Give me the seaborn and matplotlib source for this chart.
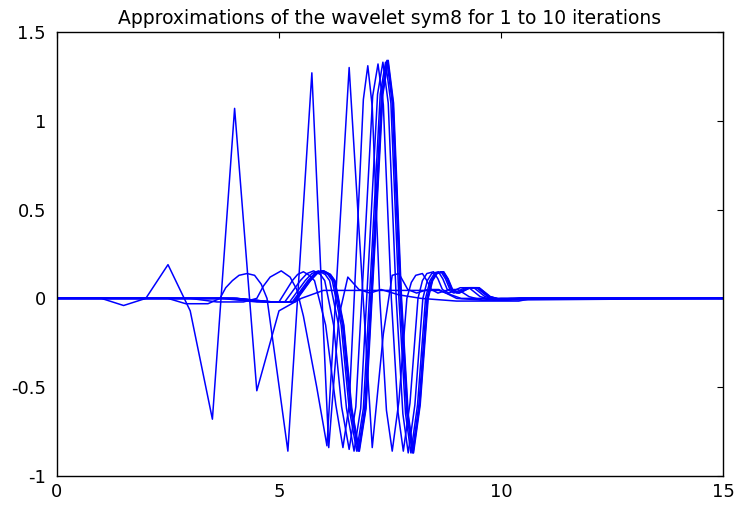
import matplotlib
matplotlib.use("Agg")
import matplotlib.pyplot as plt
import seaborn as sns
import pandas as pd

# Cascade approximations of the sym8 wavelet function psi, one polyline per iteration
x1 = [0, 1.0, 1.5, 2.0, 2.5, 3.0, 3.5, 4.0, 4.5, 5.0, 5.5, 6.0, 8.6, 9.1, 15]
y1 = [0, 0, -0.04, 0, 0.19, -0.07, -0.68, 1.07, -0.52, -0.07, 0.0, 0.045, 0.045, 0.0, 0]

x2 = [0, 2.5, 2.9, 3.4, 3.67, 3.8, 3.95, 4.1, 4.28, 4.45, 4.6, 4.73, 4.95, 5.2, 5.74,
      6.12, 6.35, 6.55, 6.8, 7.05, 7.3, 7.7, 8.2, 9.0, 10.4, 10.7, 15]
y2 = [0, 0, -0.03, -0.03, 0.0, 0.06, 0.1, 0.13, 0.14, 0.13, 0.08, 0.0, -0.4, -0.86, 1.27,
      -0.84, -0.1, 0.12, 0.05, 0.03, 0.05, 0.02, 0.0, -0.015, -0.015, 0, 0]

x3 = [0, 3.0, 3.6, 4.2, 4.5, 4.65, 4.8, 5.05, 5.25, 5.4, 5.55, 5.85, 6.08, 6.58, 7.1,
      7.35, 7.55, 7.7, 7.9, 8.1, 8.35, 8.6, 9.0, 9.6, 15]
y3 = [0, 0, -0.02, -0.02, 0.0, 0.07, 0.12, 0.155, 0.12, 0.05, -0.1, -0.5, -0.83, 1.3, -0.84,
      -0.2, 0.13, 0.14, 0.05, 0.03, 0.05, 0.05, 0.0, -0.01, 0]

x4 = [0, 3.7, 4.5, 5.0, 5.3, 5.42, 5.55, 5.68, 5.8, 6.05, 6.28, 6.44, 6.58, 6.75, 6.9, 7.0,
      7.1, 7.27, 7.42, 7.55, 7.7, 7.88, 7.98, 8.08, 8.23, 8.33, 8.43, 8.58, 8.83, 9.03, 9.28,
      9.58, 10.0, 15]
y4 = [0, 0, -0.02, -0.02, 0.1, 0.135, 0.15, 0.13, 0.1, -0.15, -0.6, -0.84, -0.6, 0.3, 1.12, 1.31,
      1.08, 0.0, -0.63, -0.86, -0.58, 0.0, 0.09, 0.13, 0.14, 0.1, 0.05, 0.03, 0.05, 0.05, 0.01,
      -0.01, 0, 0]

x5 = [0, 3.83, 4.63, 5.13, 5.48, 5.63, 5.78, 5.93, 6.03, 6.23, 6.41, 6.58, 6.73, 6.93, 7.11,
      7.23, 7.35, 7.53, 7.68, 7.8, 7.95, 8.13, 8.23, 8.33, 8.48, 8.58, 8.68, 8.83, 9.08, 9.28,
      9.53, 9.83, 10.23, 15]
y5 = [0, 0, -0.02, -0.02, 0.1, 0.14, 0.155, 0.135, 0.1, -0.15, -0.61, -0.85, -0.61, 0.3, 1.14,
      1.32, 1.09, 0.0, -0.64, -0.86, -0.59, 0.0, 0.1, 0.14, 0.15, 0.11, 0.05, 0.03, 0.06, 0.06,
      0.01, -0.01, 0, 0]

x6 = [0, 3.94, 4.74, 5.24, 5.59, 5.74, 5.89, 6.04, 6.14, 6.34, 6.52, 6.69, 6.84, 7.04, 7.22,
      7.34, 7.46, 7.64, 7.79, 7.91, 8.06, 8.24, 8.34, 8.44, 8.59, 8.69, 8.79, 8.94, 9.19, 9.39,
      9.64, 9.94, 10.34, 15]
y6 = [0, 0, -0.02, -0.02, 0.1, 0.14, 0.155, 0.135, 0.1, -0.15, -0.62, -0.86, -0.62, 0.3, 1.15,
      1.33, 1.1, 0.0, -0.65, -0.87, -0.6, 0.0, 0.1, 0.14, 0.15, 0.11, 0.05, 0.03, 0.06, 0.06,
      0.01, -0.01, 0, 0]

x7 = [0, 4.0, 4.8, 5.3, 5.65, 5.8, 5.95, 6.1, 6.2, 6.4, 6.58, 6.75, 6.9, 7.1, 7.28,
      7.4, 7.52, 7.7, 7.85, 7.97, 8.12, 8.3, 8.4, 8.5, 8.65, 8.75, 8.85, 9.0, 9.25, 9.45,
      9.7, 10.0, 10.4, 15]
y7 = [0, 0, -0.02, -0.02, 0.1, 0.14, 0.155, 0.135, 0.1, -0.15, -0.62, -0.86, -0.62, 0.3, 1.15,
      1.33, 1.1, 0.0, -0.65, -0.87, -0.6, 0.0, 0.1, 0.14, 0.15, 0.11, 0.05, 0.03, 0.06, 0.06,
      0.01, -0.01, 0, 0]

x8 = [0, 4.03, 4.83, 5.33, 5.68, 5.83, 5.98, 6.13, 6.23, 6.43, 6.61, 6.78, 6.93, 7.13, 7.31,
      7.43, 7.55, 7.73, 7.88, 8.0, 8.15, 8.33, 8.43, 8.53, 8.68, 8.78, 8.88, 9.03, 9.28, 9.48,
      9.73, 10.03, 10.43, 15]
y8 = [0, 0, -0.02, -0.02, 0.1, 0.14, 0.155, 0.135, 0.1, -0.15, -0.62, -0.86, -0.62, 0.3, 1.15,
      1.34, 1.1, 0.0, -0.65, -0.87, -0.6, 0.0, 0.1, 0.14, 0.15, 0.11, 0.05, 0.03, 0.06, 0.06,
      0.01, -0.01, 0, 0]

x9 = [0, 4.05, 4.85, 5.35, 5.7, 5.85, 6.0, 6.15, 6.25, 6.45, 6.63, 6.8, 6.95, 7.15, 7.33,
      7.45, 7.57, 7.75, 7.9, 8.02, 8.17, 8.35, 8.45, 8.55, 8.7, 8.8, 8.9, 9.05, 9.3, 9.5,
      9.75, 10.05, 10.45, 15]
y9 = [0, 0, -0.02, -0.02, 0.1, 0.14, 0.155, 0.135, 0.1, -0.15, -0.62, -0.86, -0.62, 0.3, 1.15,
      1.34, 1.1, 0.0, -0.65, -0.87, -0.6, 0.0, 0.1, 0.14, 0.15, 0.11, 0.05, 0.03, 0.06, 0.06,
      0.01, -0.01, 0, 0]

x10 = [0, 4.06, 4.86, 5.36, 5.71, 5.86, 6.01, 6.16, 6.26, 6.46, 6.64, 6.81, 6.96, 7.16, 7.34,
       7.46, 7.58, 7.76, 7.91, 8.03, 8.18, 8.36, 8.46, 8.56, 8.71, 8.81, 8.91, 9.06, 9.31, 9.51,
       9.76, 10.06, 10.46, 15]
y10 = [0, 0, -0.02, -0.02, 0.1, 0.14, 0.155, 0.135, 0.1, -0.15, -0.62, -0.86, -0.62, 0.3, 1.15,
       1.34, 1.1, 0.0, -0.65, -0.87, -0.6, 0.0, 0.1, 0.14, 0.15, 0.11, 0.05, 0.03, 0.06, 0.06,
       0.01, -0.01, 0, 0]

series_x = [x1, x2, x3, x4, x5, x6, x7, x8, x9, x10]
series_y = [y1, y2, y3, y4, y5, y6, y7, y8, y9, y10]

x_ticks = [0, 5, 10, 15]
y_ticks = [-1, -0.5, 0, 0.5, 1, 1.5]
y_tick_labels = ["-1", "-0.5", "0", "0.5", "1", "1.5"]
title_text = "Approximations of the wavelet sym8 for 1 to 10 iterations"

rows = []
for it, (xs, ys) in enumerate(zip(series_x, series_y), start=1):
    for k, (xv, yv) in enumerate(zip(xs, ys)):
        rows.append({"iteration": it, "order": k, "x": xv, "psi": yv})
df = pd.DataFrame(rows)

sns.set_theme(style="white")
plt.rcParams["font.family"] = ["DejaVu Sans"]

fig = plt.figure(figsize=(7.34, 5.05), dpi=100)
ax = fig.add_axes([57 / 734, 29 / 505, 666 / 734, 444 / 505])

sns.lineplot(data=df, x="x", y="psi", hue="iteration", units="iteration",
             estimator=None, sort=False, palette=["#0000ff"] * 10,
             linewidth=1.1, legend=False, ax=ax)

ax.set_xlim(0, 15)
ax.set_ylim(-1, 1.5)
ax.set_xticks(x_ticks)
ax.set_xticklabels([str(t) for t in x_ticks])
ax.set_yticks(y_ticks)
ax.set_yticklabels(y_tick_labels)
ax.set_xlabel("")
ax.set_ylabel("")
ax.tick_params(direction="in", length=4, width=0.8, top=True, right=True,
               labelsize=13, colors="black")
ax.tick_params(axis="y", pad=8)
ax.tick_params(axis="x", pad=5)
for s in ax.spines.values():
    s.set_color("black")
    s.set_linewidth(1.0)
ax.set_title(title_text, fontsize=13.5, pad=6, color="black")

fig.savefig("out.png", dpi=100)
